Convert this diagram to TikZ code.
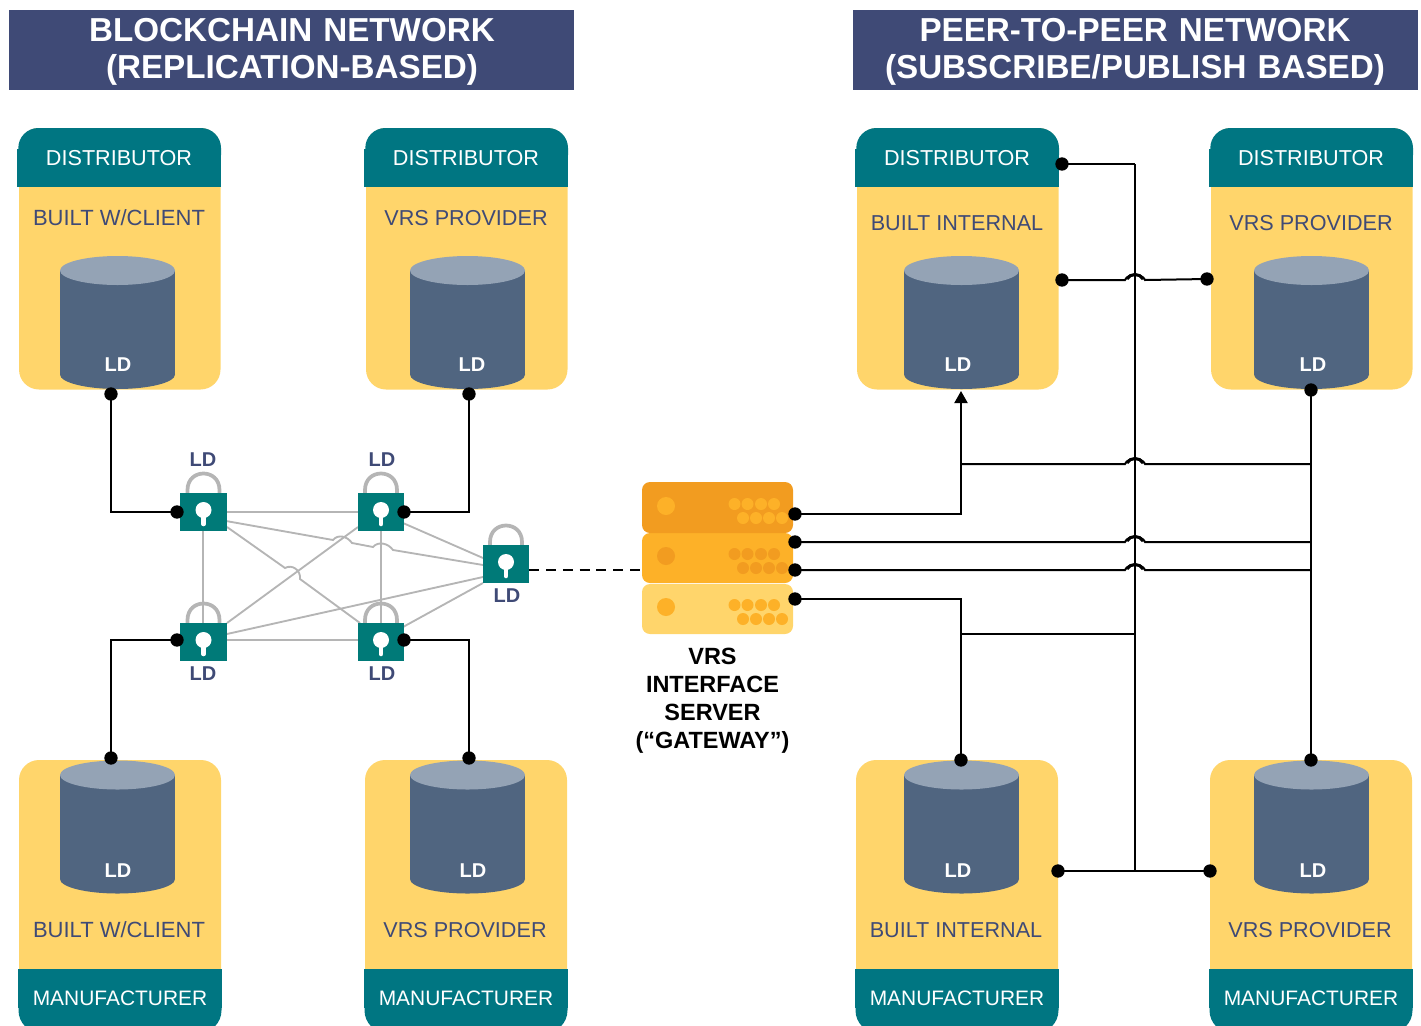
\documentclass[tikz,border=0pt]{standalone}
\usepackage{fontspec}
\setmainfont{Liberation Sans}
\usetikzlibrary{arrows.meta}
\definecolor{navy}{HTML}{3F4A76}
\definecolor{headteal}{HTML}{007682}
\definecolor{lockteal}{HTML}{007A78}
\definecolor{cardyellow}{HTML}{FFD56B}
\definecolor{cylbody}{HTML}{506580}
\definecolor{cyltop}{HTML}{94A3B5}
\definecolor{srvdark}{HTML}{F29C20}
\definecolor{srvmid}{HTML}{FDB128}
\definecolor{greyline}{HTML}{B5B5B5}
\tikzset{
  titlebox/.style={text=white,font=\fontsize{24.9}{27.75}\selectfont\bfseries,align=center,inner sep=0pt,text width=423.75pt},
  titlebg/.style={fill=navy},
  headtext/.style={text=white,font=\fontsize{16.2}{18}\selectfont,inner sep=0pt},
  manutext/.style={text=white,font=\fontsize{15.7}{18}\selectfont,inner sep=0pt},
  cardtext/.style={text=navy,font=\fontsize{16.2}{18}\selectfont,inner sep=0pt},
  ldwhite/.style={text=white,font=\fontsize{15}{16}\selectfont\bfseries,inner sep=0pt},
  ldnavy/.style={text=navy,font=\fontsize{15}{16}\selectfont\bfseries,inner sep=0pt},
  srvtext/.style={text=black,font=\fontsize{17.6}{21}\selectfont\bfseries,align=center,inner sep=0pt},
  dotnode/.style={circle,fill=black,inner sep=0pt,minimum size=10pt},
  blackline/.style={draw=black,line width=1.5pt},
  hopline/.style={draw=black,line width=2.3pt},
  greyconn/.style={draw=greyline,line width=1.4pt},
  lockbody/.style={fill=lockteal,inner sep=0pt,minimum height=28.5pt},
}
\newcommand\cylinder[2]{% centre x, top ellipse centre y
  \fill[cylbody] (#1-57.5,#2) rectangle (#1+57.5,#2+104);
  \fill[cylbody] (#1,#2+104) ellipse [x radius=57.5,y radius=14.5];
  \fill[cyltop] (#1,#2) ellipse [x radius=57.5,y radius=14.5];
}
\newcommand\topcard[6]{% id, left x, cylinder x, label, label y, LD x
  \fill[cardyellow,rounded corners=15pt] (#2,128) rectangle (#2+201.5,389.5);
  \fill[headteal,rounded corners=15pt] (#2-0.7,128) rectangle (#2+202,175);
  \fill[headteal] (#2-2,149) rectangle (#2+202,187);
  \node[headtext] (#1head) at (#2+100,158.5) {DISTRIBUTOR};
  \node[cardtext] (#1label) at (#2+100,#5) {#4};
  \cylinder{#3}{270.5}
  \node[ldwhite] (#1ld) at (#6,364.7) {LD};
}
\newcommand\botcard[5]{% id, left x, cylinder x, label, LD x
  \fill[cardyellow,rounded corners=15pt] (#2,760) rectangle (#2+202,1000);
  \fill[cardyellow] (#2,800) rectangle (#2+202,975);
  \fill[headteal,rounded corners=17pt] (#2-0.5,985) rectangle (#2+202.5,1033);
  \fill[headteal] (#2-1,969) rectangle (#2+203,1008);
  \cylinder{#3}{775}
  \node[ldwhite] (#1ld) at (#5,870.7) {LD};
  \node[cardtext] (#1label) at (#2+100,930) {#4};
  \node[manutext] (#1head) at (#2+101,998) {MANUFACTURER};
}
\newcommand\lockicon[5]{% id, centre x, top y, width, unused
  \draw[draw=greyline,line width=2.8pt] (#2-16,#3) -- (#2-16,#3-3) .. controls (#2-16,#3-25) and (#2+16,#3-25) .. (#2+16,#3-3) -- (#2+16,#3);
  \node[lockbody,minimum width=#4*0.75pt] (#1) at (#2,#3+19) {};
  \fill[white] (#2,#3+17) circle [radius=8];
  \draw[white,line width=3.4pt,line cap=round] (#2,#3+20) -- (#2,#3+31);
}
\newcommand\srvdots[3]{% y, row colour
  \foreach \px in {734.5,747.5,761,774} \fill[#2] (\px,#1+22) circle [radius=6];
  \foreach \px in {743,756,769,782} \fill[#2] (\px,#1+36) circle [radius=6];
  \fill[#3] (666,#1+24) circle [radius=9];
}
\newcommand\hopmark[1]{\draw[hopline] (1127,#1-1) .. controls (1130,#1-7) and (1140,#1-7) .. (1143,#1-1);}
\begin{document}
\begin{tikzpicture}[x=0.75pt,y=-0.75pt]
\useasboundingbox (0,0) rectangle (1421,1025);
\clip (0,0) rectangle (1421,1025);
% titles
\fill[titlebg] (9,10) rectangle (574,90);
\fill[titlebg] (853,10) rectangle (1418,90);
\node[titlebox] (titleL) at (292,50) [yshift=-1.5pt] {BLOCKCHAIN NETWORK\\(REPLICATION-BASED)};
\node[titlebox] (titleR) at (1135,50) [yshift=-1.5pt] {PEER-TO-PEER NETWORK\\(SUBSCRIBE/PUBLISH BASED)};
% cards
\topcard{ta}{19}{117.5}{\fontsize{16.5}{18}\selectfont BUILT W/CLIENT}{218}{118}
\topcard{tb}{366}{467.5}{VRS PROVIDER}{218}{472}
\topcard{tc}{857}{961.5}{BUILT INTERNAL}{223}{958}
\topcard{td}{1211}{1311.5}{VRS PROVIDER}{223}{1313}
\botcard{ba}{19}{117.5}{\fontsize{16.5}{18}\selectfont BUILT W/CLIENT}{118}
\botcard{bb}{365}{467.5}{VRS PROVIDER}{473}
\botcard{bc}{856}{961.5}{BUILT INTERNAL}{958}
\botcard{bd}{1210}{1311.5}{VRS PROVIDER}{1313}
% lock port coordinates
\coordinate (p1e) at (203,512);  \coordinate (p2w) at (381,512);
\coordinate (p4e) at (203,640);  \coordinate (p5w) at (381,640);
\coordinate (p1se) at (226,521); \coordinate (p1ss) at (227,527);
\coordinate (p2sw) at (358,527); \coordinate (p2se) at (403,523);
\coordinate (p4ne) at (227,623); \coordinate (p4nn) at (227,634);
\coordinate (p5nw) at (360,623); \coordinate (p5ne) at (403,627);
\coordinate (p3a) at (483,558);  \coordinate (p3b) at (483,565);
\coordinate (p3c) at (483,577);  \coordinate (p3d) at (483,583);
% grey mesh
\draw[greyconn] (p1e) -- (p2w);
\draw[greyconn] (p4e) -- (p5w);
\draw[greyconn] (p1e) -- (p4e);
\draw[greyconn] (p2w) -- (p5w);
\draw[greyconn] (p2sw) -- (p4ne);
\draw[greyconn] (p2se) -- (p3a);
\draw[greyconn] (p4nn) -- (p3c);
\draw[greyconn] (p5ne) -- (p3d);
\draw[greyconn] (p1se) -- (333,540) .. controls (338,534) and (347,536) .. (352,543) -- (373,547) .. controls (378,541) and (388,543) .. (393,550) -- (p3b);
\draw[greyconn] (p1ss) -- (285,568) .. controls (292,564) and (301,570) .. (300,579) -- (p5nw);
% locks
\lockicon{lockA}{203.5}{493}{47}{}
\lockicon{lockB}{381}{493}{46}{}
\lockicon{lockC}{506}{545}{46}{}
\lockicon{lockD}{203.5}{623}{47}{}
\lockicon{lockE}{381}{623}{46}{}
\node[ldnavy] (lockAld) at (203,459.7) {LD};
\node[ldnavy] (lockBld) at (382,459.7) {LD};
\node[ldnavy] (lockCld) at (507,595.7) {LD};
\node[ldnavy] (lockDld) at (203,673.7) {LD};
\node[ldnavy] (lockEld) at (382,673.7) {LD};
% server
\fill[cardyellow,rounded corners=6pt] (642,584) rectangle (793,634);
\fill[srvmid,rounded corners=6pt] (642,533) rectangle (793,583);
\fill[srvdark,rounded corners=6pt] (642,482) rectangle (793,533);
\srvdots{482}{srvmid}{srvmid}
\srvdots{532}{srvdark}{srvdark}
\srvdots{583}{srvmid}{srvmid}
\node[srvtext] (srvlabel) at (712.5,701) {VRS\\INTERFACE\\SERVER\\(“GATEWAY”)};
% junction coordinates
\coordinate (srvW) at (640,570);
\coordinate (jA) at (961,464);
\coordinate (jB) at (961,634);
\coordinate (busTop) at (1135,164);
\coordinate (busBot) at (1135,871);
\coordinate (busMid) at (1135,634);
\coordinate (rA) at (1311,464);
\coordinate (rB) at (1311,542);
\coordinate (rC) at (1311,570);
\coordinate (arrowTip) at (961,391);
% dots
\node[dotnode] (d1) at (111,394) {};
\node[dotnode] (d2) at (469,394) {};
\node[dotnode] (d3) at (177,512) {};
\node[dotnode] (d4) at (404,512) {};
\node[dotnode] (d5) at (177,640) {};
\node[dotnode] (d6) at (404,640) {};
\node[dotnode] (d7) at (111,758) {};
\node[dotnode] (d8) at (469,758) {};
\node[dotnode] (s1) at (795,514) {};
\node[dotnode] (s2) at (795,542) {};
\node[dotnode] (s3) at (795,570) {};
\node[dotnode] (s4) at (795,599) {};
\node[dotnode] (r1) at (1062,164) {};
\node[dotnode] (r2) at (1062,280) {};
\node[dotnode] (r3) at (1207,279) {};
\node[dotnode] (r4) at (1311,390) {};
\node[dotnode] (r5) at (1311,760) {};
\node[dotnode] (r6) at (961,760) {};
\node[dotnode] (r7) at (1058,871) {};
\node[dotnode] (r8) at (1210,871) {};
% black connectors, left
\draw[blackline] (d1.center) |- (d3.center);
\draw[blackline] (d2.center) |- (d4.center);
\draw[blackline] (d7.center) |- (d5.center);
\draw[blackline] (d8.center) |- (d6.center);
\draw[draw=black,line width=1.9pt,dash pattern=on 7.5pt off 5.1pt] (lockC.east |- srvW) -- (srvW);
% black connectors, right
\draw[blackline] (busTop) -- (busBot);
\draw[blackline] (r1.center) -- (busTop);
\draw[blackline] (r7.center) -- (r8.center);
\draw[blackline] (r4.center) -- (r5.center);
\draw[blackline,-{Triangle[length=9pt,width=9.75pt]}] (s1.center) -| (arrowTip);
\draw[blackline] (s4.center) -| (r6.center);
\draw[blackline] (jB) -- (busMid);
\draw[blackline] (r2.center) -- (1125,280) .. controls (1128,273) and (1142,273) .. (1145,280) -- (r3.center);
\draw[blackline] (jA) -- (1125,464) .. controls (1128,457) and (1142,457) .. (1145,464) -- (rA);
\draw[blackline] (s2.center) -- (1125,542) .. controls (1128,535) and (1142,535) .. (1145,542) -- (rB);
\draw[blackline] (s3.center) -- (1125,570) .. controls (1128,563) and (1142,563) .. (1145,570) -- (rC);
\hopmark{280}\hopmark{464}\hopmark{542}\hopmark{570}
\end{tikzpicture}
\end{document}
